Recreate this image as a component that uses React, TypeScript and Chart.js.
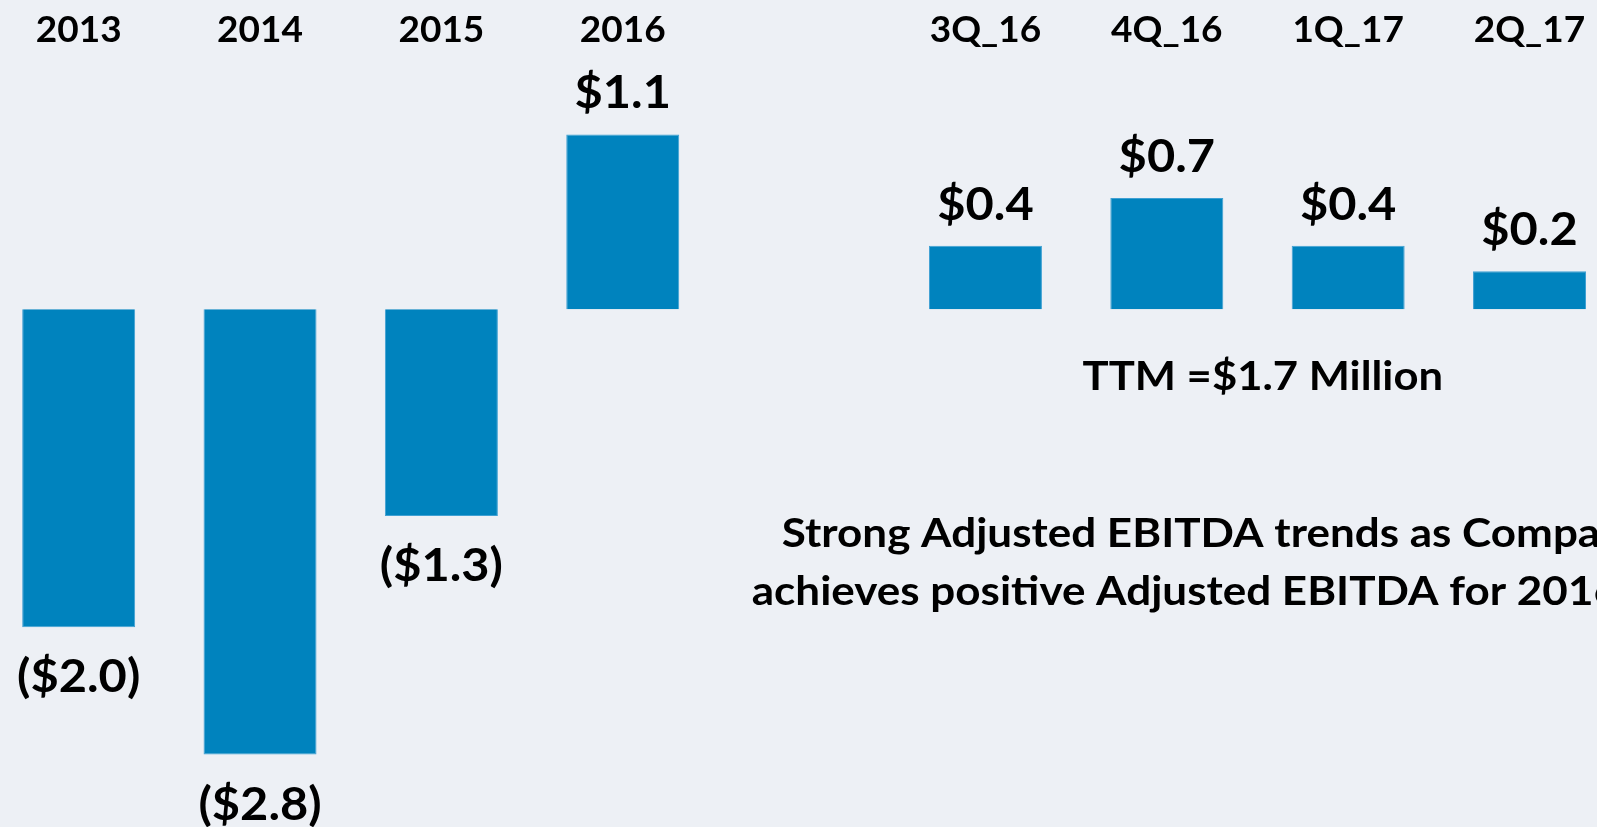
import React, { useEffect, useRef } from 'react';
import { Chart, registerables } from 'chart.js';

Chart.register(...registerables);

// ---- data ----
const categories = ['2013', '2014', '2015', '2016', '', '3Q_16', '4Q_16', '1Q_17', '2Q_17'];
const ebitda = [-2.0, -2.8, -1.3, 1.1, null, 0.4, 0.7, 0.4, 0.24];
const valueLabels = ['($2.0)', '($2.8)', '($1.3)', '$1.1', '', '$0.4', '$0.7', '$0.4', '$0.2'];
const ttmNote = 'TTM =$1.7 Million';
const commentLines = ['Strong Adjusted EBITDA trends as Company', 'achieves positive Adjusted EBITDA for 2016'];

// ---- layout / style ----
const BG = '#EDF0F5';
const BAR = '#0083BE';
const PAGE_H = 827;
const CAT_W = 181.36;
const FIRST_CENTER = 78.9;
const CANVAS_LEFT = FIRST_CENTER - CAT_W / 2;
const CANVAS_W = CAT_W * categories.length;
const ZERO_Y = 309.3;
const PX_PER_UNIT = 159;
const Y_MAX = ZERO_Y / PX_PER_UNIT;
const Y_MIN = -(PAGE_H - ZERO_Y) / PX_PER_UNIT;
const FONT = 'Lato, "Open Sans", sans-serif';

function drawText(
  ctx: CanvasRenderingContext2D,
  text: string,
  x: number,
  y: number,
  size: number,
  stretch: number,
  align: CanvasTextAlign
) {
  ctx.save();
  ctx.font = `bold ${size}px ${FONT}`;
  ctx.textAlign = align;
  ctx.textBaseline = 'alphabetic';
  ctx.translate(x, y);
  ctx.scale(stretch, 1);
  ctx.fillText(text, 0, 0);
  ctx.restore();
}

const labelPlugin = {
  id: 'slideLabels',
  afterDatasetsDraw(chart: any) {
    const ctx = chart.ctx as CanvasRenderingContext2D;
    const meta = chart.getDatasetMeta(0);
    ctx.save();
    ctx.fillStyle = '#000';
    meta.data.forEach((el: any, i: number) => {
      const v = ebitda[i];
      if (v == null) return;
      drawText(ctx, categories[i], el.x, 41.7, 37, 1.0, 'center');
      if (v >= 0) drawText(ctx, valueLabels[i], el.x, el.y - 26, 46, 1.06, 'center');
      else drawText(ctx, valueLabels[i], el.x, el.y + 65, 46, 1.06, 'center');
    });
    drawText(ctx, ttmNote, 1263 - CANVAS_LEFT, 389.5, 40, 1.09, 'center');
    drawText(ctx, commentLines[0], 782 - CANVAS_LEFT, 546.7, 40, 1.1, 'left');
    drawText(ctx, commentLines[1], 752 - CANVAS_LEFT, 605, 40, 1.1, 'left');
    ctx.restore();
  },
};

export default function App() {
  const ref = useRef<HTMLCanvasElement>(null);
  useEffect(() => {
    if (!ref.current) return;
    const chart = new Chart(ref.current, {
      type: 'bar',
      data: {
        labels: categories,
        datasets: [
          {
            data: ebitda as any,
            backgroundColor: BAR,
            borderColor: '#3FA0D3',
            borderWidth: 1,
            barPercentage: 0.623,
            categoryPercentage: 1,
          },
        ],
      },
      options: {
        animation: false,
        responsive: true,
        maintainAspectRatio: false,
        layout: { padding: 0 },
        plugins: { legend: { display: false }, tooltip: { enabled: false } },
        scales: {
          x: { display: false, offset: true, grid: { display: false } },
          y: { display: false, min: Y_MIN, max: Y_MAX, grid: { display: false } },
        },
      },
      plugins: [labelPlugin],
    });
    (document as any).fonts?.load?.(`bold 36px Lato`).then(() => chart.update()).catch(() => {});
    return () => chart.destroy();
  }, []);

  return (
    <div
      style={{
        position: 'fixed',
        left: 0,
        top: 0,
        width: '100vw',
        height: '100vh',
        overflow: 'hidden',
        background: BG,
      }}
    >
      <div
        style={{
          position: 'absolute',
          left: CANVAS_LEFT,
          top: 0,
          width: CANVAS_W,
          height: PAGE_H,
        }}
      >
        <canvas ref={ref} />
      </div>
    </div>
  );
}
